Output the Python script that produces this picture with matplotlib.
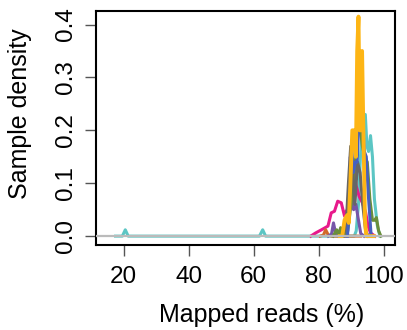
import matplotlib
matplotlib.use("Agg")
import matplotlib.pyplot as plt

plt.rcParams['font.family'] = ['Liberation Sans', 'DejaVu Sans']

# Density curves: (x = mapped reads %, y = density)
teal_x = [17.5, 19.6, 20.5, 21.4, 61.8, 62.8, 63.7, 88.0, 91.0, 91.6, 92.3, 92.9, 93.5, 94.4, 94.9, 95.4, 96.0, 96.6, 97.2, 98.1, 98.9]
teal_y = [0.0, 0.0, 0.012, 0.0, 0.0, 0.012, 0.0, 0.0, 0.0, 0.01, 0.06, 0.15, 0.20, 0.23, 0.17, 0.16, 0.19, 0.15, 0.07, 0.02, 0.0]

magenta_x = [77.6, 79.1, 80.9, 82.9, 83.9, 84.9, 85.9, 87.0, 88.0, 88.5, 88.9, 89.5, 90.4, 91.0, 91.6, 92.5, 93.5, 94.5, 95.2, 96.0, 97.4]
magenta_y = [0.0, 0.006, 0.012, 0.019, 0.044, 0.047, 0.066, 0.063, 0.038, 0.047, 0.05, 0.09, 0.13, 0.12, 0.095, 0.075, 0.063, 0.045, 0.02, 0.006, 0.0]

brown_x = [80.5, 81.5, 82.2, 83.0, 84.0, 93.0]
brown_y = [0.0, 0.002, 0.012, 0.002, 0.0, 0.0]

purple_x = [83.0, 84.0, 84.6, 85.3, 86.0, 88.5, 89.2, 89.8, 90.3, 90.8, 91.5, 92.3, 93.0, 94.0]
purple_y = [0.0, 0.004, 0.025, 0.004, 0.0, 0.0, 0.06, 0.15, 0.10, 0.05, 0.06, 0.03, 0.005, 0.0]

green_x = [84.5, 85.6, 86.2, 86.8, 87.3, 88.0, 89.0, 90.0, 91.0, 91.8, 92.4, 92.9, 93.5, 94.2, 95.0, 95.8, 96.6, 97.3, 97.8, 98.5, 99.2]
green_y = [0.0, 0.012, 0.002, 0.016, 0.003, 0.0, 0.01, 0.06, 0.12, 0.17, 0.22, 0.20, 0.17, 0.15, 0.14, 0.07, 0.03, 0.03, 0.035, 0.01, 0.0]

gray_x = [87.5, 88.5, 89.2, 89.9, 90.5, 91.2, 92.0, 92.8, 93.6, 94.5, 95.3]
gray_y = [0.0, 0.02, 0.10, 0.17, 0.12, 0.06, 0.14, 0.12, 0.06, 0.01, 0.0]

blue_x = [88.9, 89.5, 90.2, 90.7, 91.3, 91.9, 92.8, 93.5, 94.1, 94.7, 95.3, 96.2]
blue_y = [0.0, 0.05, 0.17, 0.12, 0.14, 0.14, 0.28, 0.22, 0.16, 0.15, 0.08, 0.0]

orange_x = [86.5, 87.3, 88.0, 88.5, 88.9, 89.3, 89.8, 90.4, 91.0, 91.5, 91.9, 92.3, 92.7, 93.0, 93.4, 93.8, 94.3, 94.7, 97.0]
orange_y = [0.0, 0.0, 0.03, 0.037, 0.04, 0.025, 0.10, 0.20, 0.20, 0.15, 0.35, 0.415, 0.2, 0.2, 0.35, 0.2, 0.03, 0.0, 0.0]

x_ticks = [20, 40, 60, 80, 100]
y_ticks = [0.0, 0.1, 0.2, 0.3, 0.4]
x_label = "Mapped reads (%)"
y_label = "Sample density"

fig = plt.figure(figsize=(4.07, 3.30), dpi=100)
ax = fig.add_axes([0.236, 0.258, 0.735, 0.709])

lw = 2.2
ax.plot(teal_x, teal_y, color='#5CC6C4', lw=lw, zorder=2)
ax.plot(magenta_x, magenta_y, color='#E8198B', lw=lw, zorder=3)
ax.plot(brown_x, brown_y, color='#D2692A', lw=lw, zorder=3)
ax.plot(purple_x, purple_y, color='#7756A8', lw=lw, zorder=3)
ax.plot(green_x, green_y, color='#6A8E3A', lw=lw, zorder=3)
ax.plot(gray_x, gray_y, color='#666666', lw=lw, zorder=3)
ax.plot(blue_x, blue_y, color='#4560C0', lw=lw, zorder=4)
ax.plot(orange_x, orange_y, color='#FDB515', lw=lw + 0.6, zorder=5)
ax.axhline(0, color='#BBBBBB', lw=1.6, zorder=6)

ax.set_xlim(11.5, 103.6)
ax.set_ylim(-0.0165, 0.4258)
ax.set_xticks(x_ticks)
ax.set_yticks(y_ticks)
ax.set_xticklabels([str(t) for t in x_ticks])
ax.set_yticklabels([f"{t:.1f}" for t in y_ticks], rotation=90, va='center')
ax.tick_params(axis='both', direction='out', length=8, width=1, labelsize=17.5, color='#555555')
ax.tick_params(axis='x', pad=7)
ax.tick_params(axis='y', pad=6)
for s in ax.spines.values():
    s.set_linewidth(1.5)
    s.set_color('black')

ax.set_xlabel(x_label, fontsize=18, labelpad=11)
ax.set_ylabel(y_label, fontsize=18, labelpad=16)
ax.xaxis.label.set_x(0.553)
ax.yaxis.label.set_y(0.56)

fig.savefig("out.png", dpi=100)
